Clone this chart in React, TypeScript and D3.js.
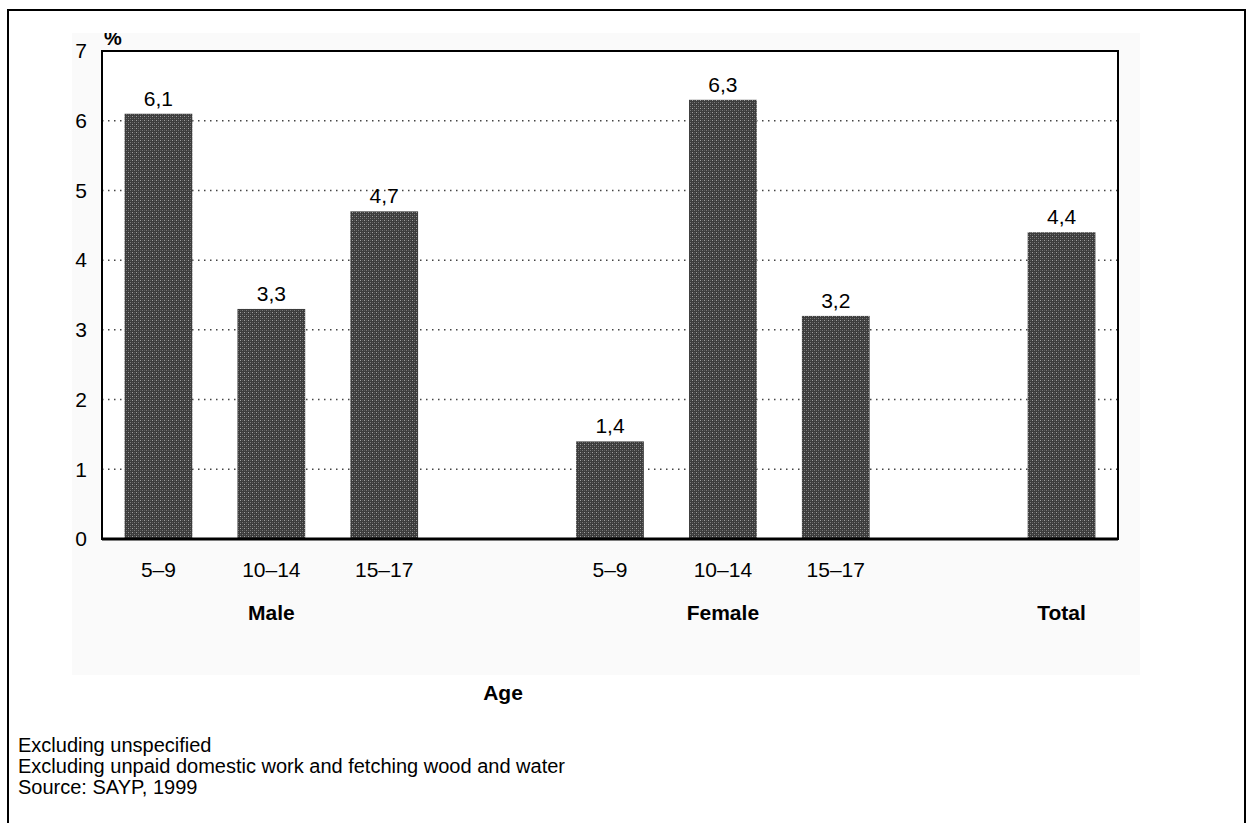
import * as d3 from 'd3';
import { type FC } from 'react';

// chart data
const ageLabels = ['5–9', '10–14', '15–17'];
const maleValues = [6.1, 3.3, 4.7];
const femaleValues = [1.4, 6.3, 3.2];
const totalValues = [4.4];
const groupLabels = ['Male', 'Female', 'Total'];
const yTicks = [0, 1, 2, 3, 4, 5, 6, 7];
const footnotes = [
  'Excluding unspecified',
  'Excluding unpaid domestic work and fetching wood and water',
  'Source: SAYP, 1999',
];

type Row = { key: string; group: string; age: string; value: number };

const rows: Row[] = [
  ...maleValues.map((v, i) => ({ key: `m${i}`, group: groupLabels[0], age: ageLabels[i], value: v })),
  ...femaleValues.map((v, i) => ({ key: `f${i}`, group: groupLabels[1], age: ageLabels[i], value: v })),
  ...totalValues.map((v, i) => ({ key: `t${i}`, group: groupLabels[2], age: '', value: v })),
];

// empty slots between the groups
const slots = ['m0', 'm1', 'm2', 'gap1', 'f0', 'f1', 'f2', 'gap2', 't0'];

const width = 1247;
const height = 823;
const plot = { left: 102, right: 1118, top: 51, bottom: 539 };
const panel = { x: 72, y: 33, w: 1068, h: 642 };
const font = '"Liberation Sans", Arial, sans-serif';

const fmt = (v: number) => v.toFixed(1).replace('.', ',');

const App: FC = () => {
  const x = d3
    .scaleBand<string>()
    .domain(slots)
    .range([plot.left, plot.right])
    .paddingInner(0.4)
    .paddingOuter(0.2);

  const y = d3.scaleLinear().domain([0, 7]).range([plot.bottom, plot.top]);

  const cx = (key: string) => (x(key) ?? 0) + x.bandwidth() / 2;

  const groupCenter = (g: string) => {
    const r = rows.filter((d) => d.group === g);
    return cx(r[Math.floor(r.length / 2)].key);
  };

  return (
    <svg
      width={width}
      height={height}
      viewBox={`0 0 ${width} ${height}`}
      style={{ position: 'absolute', left: 0, top: 0, background: '#fff' }}
    >
      <defs>
        <pattern id='hatch' width={4} height={4} patternUnits='userSpaceOnUse'>
          <rect width={4} height={4} fill='#3c3c3c' />
          <rect x={0} y={0} width={1} height={1} fill='#a0a0a0' />
          <rect x={2} y={2} width={1} height={1} fill='#7a7a7a' />
          <rect x={2} y={0} width={1} height={1} fill='#5a5a5a' />
          <rect x={0} y={2} width={1} height={1} fill='#5a5a5a' />
        </pattern>
        <clipPath id='panelClip'>
          <rect x={panel.x} y={panel.y} width={panel.w} height={panel.h} />
        </clipPath>
      </defs>

      {/* outer frame */}
      <rect x={8} y={10} width={1237} height={840} fill='none' stroke='#000' strokeWidth={2} />

      {/* light panel */}
      <rect x={panel.x} y={panel.y} width={panel.w} height={panel.h} fill='#fafafa' />

      {/* plot background */}
      <rect
        x={plot.left}
        y={plot.top}
        width={plot.right - plot.left}
        height={plot.bottom - plot.top}
        fill='#fff'
      />

      {/* gridlines */}
      <g stroke='#444' strokeWidth={1.5} strokeDasharray='1.5 4.5'>
        {yTicks
          .filter((t) => t > 0 && t < 7)
          .map((t) => (
            <line key={t} x1={plot.left} x2={plot.right} y1={y(t)} y2={y(t)} />
          ))}
      </g>

      {/* bars */}
      <g>
        {rows.map((d) => (
          <rect
            key={d.key}
            x={x(d.key)}
            y={y(d.value)}
            width={x.bandwidth()}
            height={y(0) - y(d.value)}
            fill='url(#hatch)'
          />
        ))}
      </g>

      {/* plot frame */}
      <rect
        x={plot.left}
        y={plot.top}
        width={plot.right - plot.left}
        height={plot.bottom - plot.top}
        fill='none'
        stroke='#000'
        strokeWidth={2}
      />
      <line x1={plot.left} x2={plot.right} y1={plot.bottom} y2={plot.bottom} stroke='#000' strokeWidth={3} />

      {/* value labels */}
      <g fontFamily={font} fontSize={21} textAnchor='middle' fill='#000'>
        {rows.map((d) => (
          <text key={d.key} x={cx(d.key)} y={y(d.value) - 8}>
            {fmt(d.value)}
          </text>
        ))}
      </g>

      {/* y tick labels */}
      <g fontFamily={font} fontSize={21} textAnchor='end' fill='#000'>
        {yTicks.map((t) => (
          <text key={t} x={87} y={y(t)} dy='0.35em'>
            {t}
          </text>
        ))}
      </g>
      <text
        x={104}
        y={45}
        fontFamily={font}
        fontSize={20}
        fontWeight='bold'
        clipPath='url(#panelClip)'
      >
        %
      </text>

      {/* age labels */}
      <g fontFamily={font} fontSize={21} textAnchor='middle' fill='#000'>
        {rows
          .filter((d) => d.age)
          .map((d) => (
            <text key={d.key} x={cx(d.key)} y={570} dy='0.35em'>
              {d.age}
            </text>
          ))}
      </g>

      {/* group labels */}
      <g fontFamily={font} fontSize={21} fontWeight='bold' textAnchor='middle' fill='#000'>
        {groupLabels.map((g) => (
          <text key={g} x={groupCenter(g)} y={613} dy='0.35em'>
            {g}
          </text>
        ))}
      </g>

      <text x={503} y={693} dy='0.35em' fontFamily={font} fontSize={21} fontWeight='bold' textAnchor='middle'>
        Age
      </text>

      {/* footnotes */}
      <g fontFamily={font} fontSize={20} fill='#000'>
        {footnotes.map((f, i) => (
          <text key={f} x={18} y={745 + i * 21} dy='0.35em'>
            {f}
          </text>
        ))}
      </g>
    </svg>
  );
};

export default App;
